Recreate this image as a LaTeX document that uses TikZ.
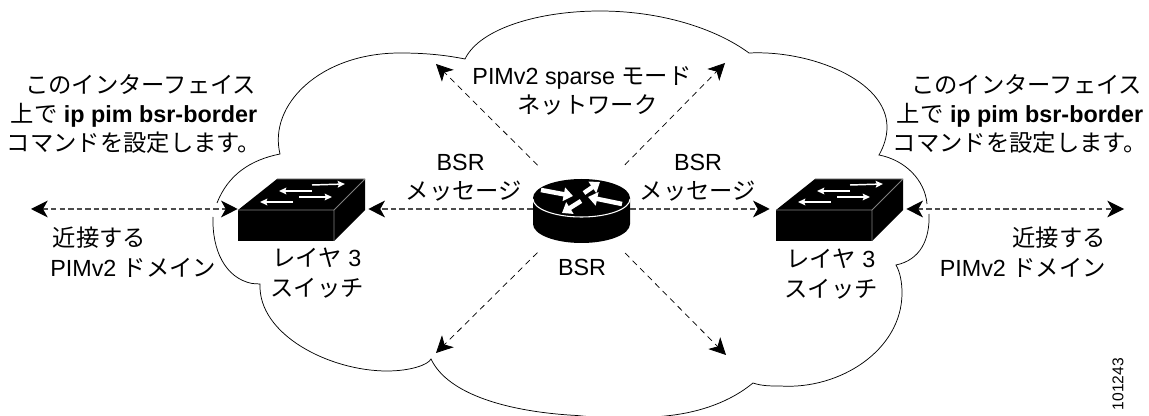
\documentclass[tikz,border=0pt]{standalone}
\usepackage{fontspec}
\setmainfont{Liberation Sans}
\newfontfamily\cjk{Noto Sans CJK JP}
\newcommand{\jp}[1]{{\cjk #1}}
\usetikzlibrary{arrows.meta}
\tikzset{
    hoptip/.tip={Stealth[length=12.5pt,width=12.5pt,inset=3.5pt,black]},
    msgtext/.style={font=\fontsize{17.5}{22}\selectfont, inner sep=0pt, align=center},
    cloudline/.style={line width=0.55pt, black},
    hopline/.style={dash pattern=on 4pt off 2.4pt, line width=0.95pt, black!70},
    diagline/.style={dash pattern=on 4.5pt off 3.5pt, line width=0.55pt, black, shorten <=46.5pt, -hoptip},
    switchnode/.style={minimum width=95.25pt, minimum height=45pt, inner sep=0pt},
    routernode/.style={minimum width=72.75pt, minimum height=51pt, inner sep=0pt},
    swarrow/.style={white, line width=1.1pt, -{Stealth[length=5.5pt,width=5pt,inset=1pt]}},
    rtarrow/.style={white, line width=3.4pt, -{Triangle[length=7pt,width=10pt]}},
    switchpic/.pic={
        \fill[black] (0,0) -- (39,-31) -- (127,-31) -- (127,0) -- (96,31) -- (0,31) -- cycle;
        \draw[gray, line width=0.6pt] (0,0) -- (96,0) -- (96,31) (96,0) -- (127,-31) (39,-31) -- (127,-31);
        \draw[swarrow] (74,-25) -- (107,-26);
        \draw[swarrow] (74,-19) -- (41,-19);
        \draw[swarrow] (61,-13) -- (94,-13);
        \draw[swarrow] (55,-8) -- (22,-8);
    },
}

\begin{document}
\begin{tikzpicture}[x=0.75pt, y=-0.75pt]
    \clip (0,0) rectangle (1149,416);

    % cloud, open at the two outer hops
    \draw[cloudline] (217,203) .. controls (228,175) and (250,160) .. (280,154)
        .. controls (268,105) and (320,53) .. (400,53)
        .. controls (425,53) and (445,55) .. (465,59)
        .. controls (480,28) and (540,11) .. (600,11)
        .. controls (660,11) and (715,28) .. (749,53)
        .. controls (810,50) and (887,80) .. (887,127)
        .. controls (887,137) and (884,146) .. (879,155)
        .. controls (905,160) and (925,180) .. (927,204);
    \draw[cloudline] (929,214) .. controls (930,240) and (920,260) .. (896,265)
        .. controls (900,272) and (902,282) .. (902,293)
        .. controls (902,350) and (840,390) .. (780,386)
        .. controls (770,386) and (762,386) .. (753,383)
        .. controls (730,402) and (700,412) .. (670,415.5)
        .. controls (640,419) and (610,419) .. (577,415.5)
        .. controls (510,412) and (448,395) .. (431,359)
        .. controls (428,365) and (410,371) .. (387,371)
        .. controls (330,371) and (258,335) .. (260,284)
        -- (252,283.5)
        .. controls (225,278) and (212,250) .. (213,217);

    \node[switchnode] (swL) at (301.5,209) {};
    \node[switchnode] (swR) at (839.5,209) {};
    \node[routernode] (router) at (581.5,209) {};
    \pic at (238,210) {switchpic};
    \pic at (776,210) {switchpic};

    % router
    \fill[black] (533,198) arc[start angle=180, end angle=360, x radius=48.5, y radius=19]
        -- (630,224) arc[start angle=0, end angle=180, x radius=48.5, y radius=19] -- cycle;
    \draw[white, line width=0.8pt] (533,199) arc[start angle=180, end angle=0, x radius=48.5, y radius=18];
    \draw[rtarrow] (541,190) -- (573,196);
    \draw[rtarrow] (584,193) -- (600,182);
    \draw[rtarrow] (622,204) -- (588,197);
    \draw[rtarrow] (581,201) -- (562,213);

    \coordinate (nbrL) at (31,209);
    \coordinate (nbrR) at (1124,209);
    \coordinate (tipNW) at (436,64);
    \coordinate (tipNE) at (725,63);
    \coordinate (tipSW) at (436,353);
    \coordinate (tipSE) at (726,355);

    \draw[hopline, hoptip-hoptip] (nbrL) -- (swL.west);
    \draw[hopline, -hoptip, shorten >=2.25pt] (router.west) -- (swL.east);
    \draw[hopline, -hoptip, shorten >=4.5pt] (router.east) -- (swR.west);
    \draw[hopline, hoptip-hoptip, shorten <=2.25pt] (swR.east) -- (nbrR);
    \foreach \tip in {tipNW,tipNE,tipSW,tipSE}
        \draw[diagline] (router.center) -- (\tip);

    \node[msgtext] (noteL) at (134,114) {\hspace*{10pt}\jp{このインターフェイス}\\\jp{上で} \textbf{ip pim bsr-border}\\\jp{コマンドを設定します。}};
    \node[msgtext] (noteR) at (1020,114) {\hspace*{10pt}\jp{このインターフェイス}\\\jp{上で} \textbf{ip pim bsr-border}\\\jp{コマンドを設定します。}};
    \node[msgtext, align=left, anchor=north west] (nearL) at (50,227) {\hspace*{2pt}\jp{近接する}\\PIMv2 \jp{ドメイン}};
    \node[msgtext, align=right, anchor=north east] (nearR) at (1106,227) {\jp{近接する}\\PIMv2 \jp{ドメイン}};
    \node[msgtext] (layerL) at (317,273) {\jp{レイヤ} 3\\\jp{スイッチ}};
    \node[msgtext] (layerR) at (831,274) {\jp{レイヤ} 3\\\jp{スイッチ}};
    \node[msgtext] (msgL) at (464,178) {\hspace*{-5pt}BSR\\\jp{メッセージ}};
    \node[msgtext] (msgR) at (698,178) {BSR\\\jp{メッセージ}};
    \node[msgtext] (bsr) at (582,267) {BSR};
    \node[msgtext] (domain) at (582,91) {PIMv2 sparse \jp{モード}\\\hspace*{8pt}\jp{ネットワーク}};
    \node[font=\fontsize{11.7}{14}\selectfont, inner sep=0pt, rotate=90] (figid) at (1118,384) {101243};
\end{tikzpicture}
\end{document}
